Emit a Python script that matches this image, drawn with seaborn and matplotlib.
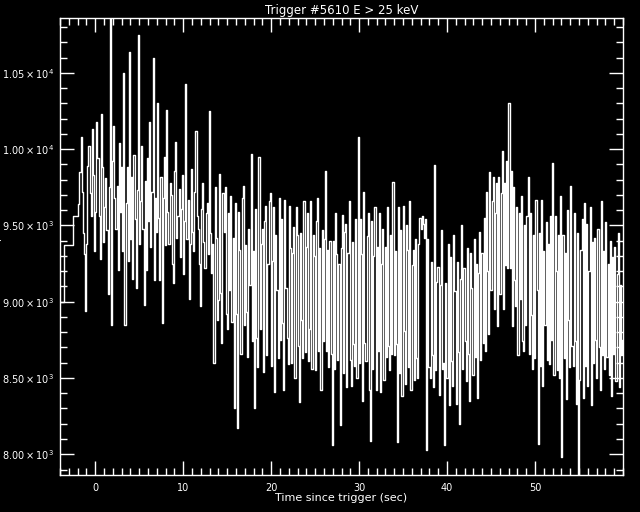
import numpy as np
import pandas as pd
import matplotlib
matplotlib.use("Agg")
import matplotlib.pyplot as plt
from matplotlib.ticker import MultipleLocator, FixedLocator, FuncFormatter
import seaborn as sns

# Pre-trigger (1.024 s) bins, then 0.128 s bins
pre_edges = [-4.6, -3.55, -2.5]
pre_rate = [9000, 9375, 9565]
fine_start = -1.92
fine_width = 0.128
fine_rate = [
    9640, 9850, 10080, 9720, 9450, 9310, 8940, 9380, 9890, 10020,
    9710, 9560, 10130, 9830, 9330, 9590, 10180, 9940, 9560, 9280,
    10230, 9880, 9390, 9620, 9810, 9470, 9050, 9750, 10950, 8850,
    9920, 10150, 9680, 9480, 9760, 9210, 10040, 9590, 9880, 9330,
    10500, 8845, 9650, 9880, 9270, 10640, 9410, 9820, 9150, 9960,
    9540, 9090, 9730, 10750, 9380, 9660, 10020, 9480, 8980, 9790,
    9210, 9940, 9530, 10180, 9360, 9720, 10600, 9140, 9680, 9460,
    10300, 9550, 9140, 9820, 8860, 9680, 9950, 9370, 10260, 9590,
    9380, 9780, 9700, 9250, 9120, 9860, 10050, 9420, 9560, 9740,
    9290, 9610, 9830, 9180, 9530, 10430, 9410, 9670, 9020, 9380,
    9870, 9460, 9330, 9720, 10120, 9560, 9480, 9250, 8970, 9610,
    9780, 9390, 9220, 9580, 9650, 9310, 10250, 9450, 9190, 9380,
    8600, 9750, 9420, 8880, 9010, 9840, 9060, 8730, 9710, 9460,
    9750, 8920, 8820, 9580, 9080, 9690, 8870, 9420, 8300, 9650,
    8920, 8170, 9590, 9340, 8660, 9680, 9760, 8850, 9370, 8930,
    8640, 9480, 9110, 9970, 8740, 9330, 8300, 9610, 8760, 8570,
    9950, 8820, 9380, 9480, 8540, 9530, 9630, 8650, 9250, 9660,
    9710, 8580, 9270, 9620, 8410, 9440, 9080, 8630, 9680, 8750,
    9540, 8860, 8420, 9670, 9090, 8760, 8590, 9630, 9350, 8600,
    9320, 9490, 8500, 9620, 9440, 8710, 8340, 9450, 8880, 8630,
    9660, 8670, 9360, 9580, 8610, 8820, 9660, 8560, 9440, 9300,
    8550, 9530, 9680, 8680, 9350, 8420, 9470, 8740, 9410, 9860,
    8680, 9340, 8570, 9400, 8660, 8060, 9400, 8560, 9580, 9310,
    8620, 9250, 8190, 9350, 9570, 8530, 9460, 9510, 8440, 9320,
    9660, 8620, 8450, 9390, 8720, 8580, 9540, 8500, 10080, 8600,
    9540, 9310, 8350, 9720, 8730, 8610, 9430, 9580, 8420, 8090,
    9530, 8560, 9300, 9620, 8420, 9360, 8680, 9580, 8410, 9250,
    9480, 8490, 9360, 8640, 9620, 8710, 8550, 9440, 8660, 9785,
    8650, 9330, 8720, 8080, 9620, 8530, 9470, 8380, 9630, 8810,
    8460, 9500, 9340, 8570, 9660, 8420, 9240, 9340, 8490, 9410,
    8630, 8500, 9380, 9550, 9480, 9560, 9510, 9420, 9540, 8030,
    9410, 8570, 8500, 9260, 8650, 8440, 9895, 8550, 9130, 9230,
    8390, 9110, 9470, 8560, 8600, 8060, 9120, 8500, 9380, 8320,
    9290, 8610, 8450, 9440, 9070, 8330, 9260, 8670, 8200, 9150,
    9500, 8560, 9220, 8740, 8480, 9350, 8660, 8350, 9320, 9090,
    8520, 9410, 8640, 9250, 8370, 9190, 9460, 8620, 9320, 8730,
    9550, 8680, 9720, 9200, 8790, 9850, 9080, 9660, 9820, 8950,
    9580, 9780, 8840, 9820, 9050, 9710, 9990, 8950, 9780, 9240,
    9920, 9220, 10300, 9220, 9860, 8840, 9750, 9140, 8970, 9620,
    8650, 9580, 9020, 9690, 8740, 8680, 9500, 8850, 9560, 9820,
    8660, 9580, 8910, 8560, 9440, 8630, 9670, 9080, 8070, 9450,
    8580, 9670, 8450, 9330, 8850, 9520, 8620, 9380, 8590, 9560,
    8750, 9910, 8520, 9560, 9200, 8550, 9440, 8500, 9690, 7980,
    9440, 8630, 9320, 8360, 9600, 8880, 8570, 9760, 8710, 8580,
    9580, 8740, 8330, 9450, 7750, 8490, 9340, 9540, 8370, 9650,
    8580, 9510, 8450, 9200, 9620, 8320, 9390, 8600, 9420, 8750,
    8500, 9480, 8700, 8420, 9660, 8650, 9330, 8560, 9520, 8640,
    9250, 8520, 9400, 8380, 9290, 8660, 9360, 8480, 9180, 9450,
    8440, 9110, 8650, 8750,
]

x_ticks = [0, 10, 20, 30, 40, 50]
y_ticks = [8000, 8500, 9000, 9500, 10000, 10500]
title = "Trigger #5610 E > 25 keV"
x_label = "Time since trigger (sec)"
y_label = "Counts/sec"

fine_edges = [fine_start + fine_width * i for i in range(len(fine_rate))]
times = pre_edges + fine_edges + [fine_edges[-1] + fine_width]
rates = pre_rate + fine_rate + [fine_rate[-1]]
df = pd.DataFrame({"time": times, "rate": rates})

sns.set_theme(style="ticks", rc={
    "figure.facecolor": "black",
    "axes.facecolor": "black",
    "axes.edgecolor": "white",
    "text.color": "white",
    "axes.labelcolor": "white",
    "xtick.color": "white",
    "ytick.color": "white",
    "mathtext.default": "regular",
})
plt.rcParams["font.family"] = ["DejaVu Sans"]

fig = plt.figure(figsize=(6.4, 5.12), dpi=100)
ax = fig.add_axes([60 / 640, 1 - 475 / 512, 563 / 640, 457 / 512])

sns.lineplot(data=df, x="time", y="rate", estimator=None, sort=False,
             drawstyle="steps-post", color="white", linewidth=1, ax=ax)

ax.set_xlim(-4, 60)
ax.set_ylim(7864, 10860)
ax.xaxis.set_major_locator(FixedLocator(x_ticks))
ax.xaxis.set_minor_locator(MultipleLocator(1))
ax.yaxis.set_major_locator(FixedLocator(y_ticks))
ax.yaxis.set_minor_locator(MultipleLocator(100))


def sci(v, pos):
    e = int(np.floor(np.log10(v)))
    return r"$%.2f\times10^{%d}$" % (v / 10 ** e, e)


ax.yaxis.set_major_formatter(FuncFormatter(sci))
ax.tick_params(which="both", direction="in", top=True, right=True,
               colors="white", width=1, labelsize=7)
ax.tick_params(which="major", length=10, pad=4)
ax.tick_params(axis="x", which="major", pad=6)
ax.tick_params(which="minor", length=5)
for s in ax.spines.values():
    s.set_color("white")
    s.set_linewidth(1)

ax.set_title(title, fontsize=8.5, color="white", pad=3)
ax.set_xlabel(x_label, fontsize=8, labelpad=0)
ax.set_ylabel("")
fig.text(0.003, 0.516, y_label, rotation=90, ha="right", va="center",
         fontsize=8, color="white")

fig.savefig("out.png", dpi=100, facecolor="black")
